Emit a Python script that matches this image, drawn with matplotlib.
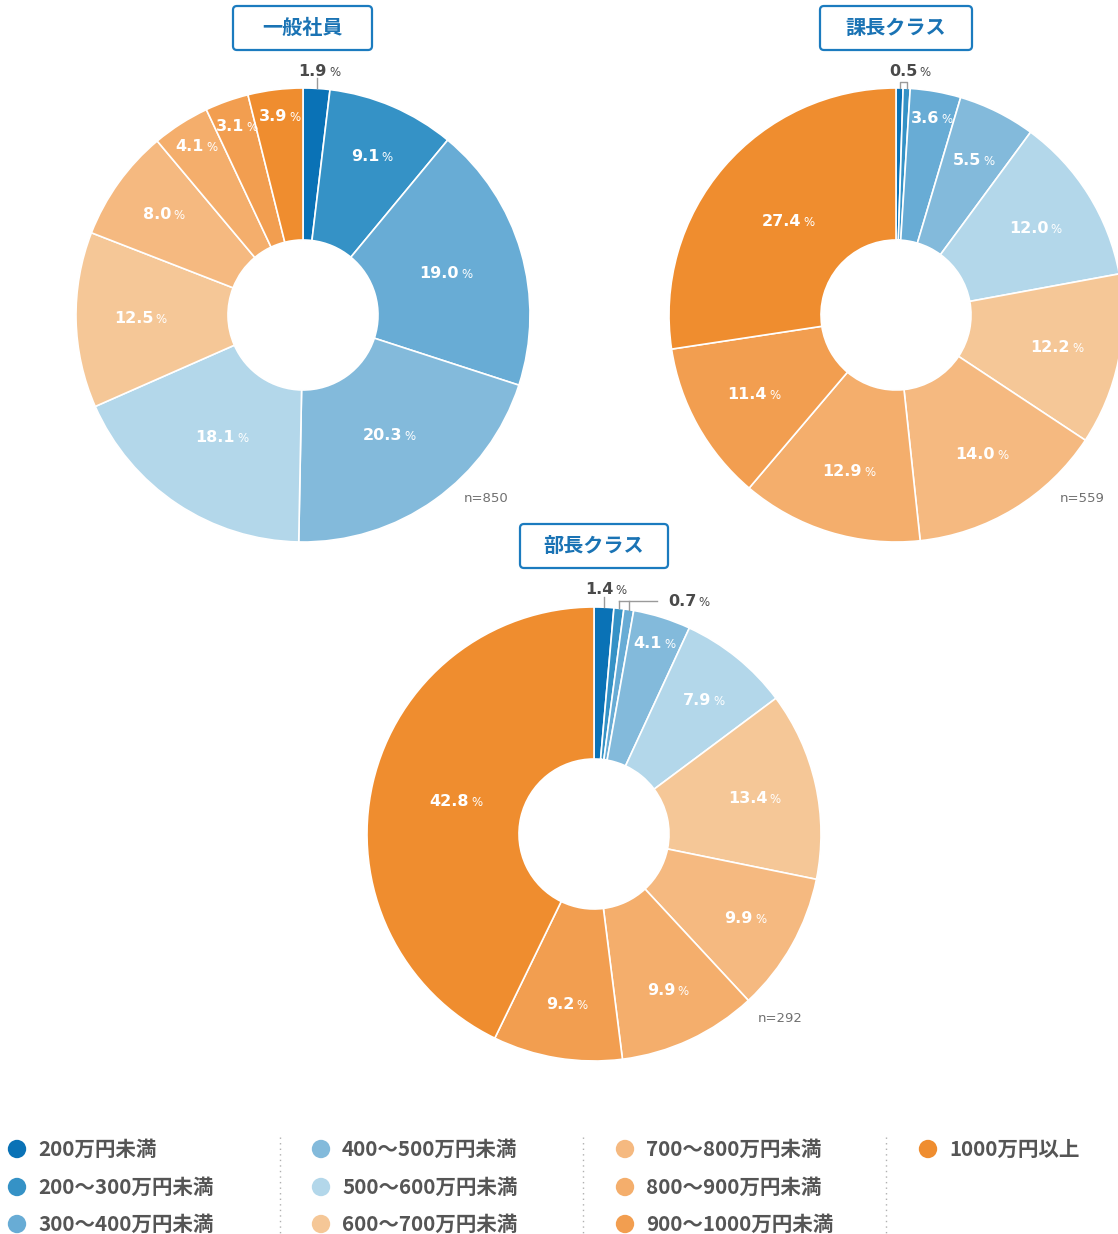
import matplotlib
matplotlib.use('Agg')
import matplotlib.pyplot as plt
import numpy as np
from matplotlib.patches import FancyBboxPatch

plt.rcParams['font.family'] = ['Noto Sans CJK JP', 'DejaVu Sans']

# ---------------- data ----------------
categories = ['200万円未満', '200～300万円未満', '300～400万円未満',
              '400～500万円未満', '500～600万円未満', '600～700万円未満',
              '700～800万円未満', '800～900万円未満', '900～1000万円未満',
              '1000万円以上']
colors = ['#0a72b6', '#3592c6', '#68acd5', '#83badb', '#b3d7ea',
          '#f5c797', '#f5b980', '#f4ae6c', '#f29e50', '#ef8d2f']
groups = ['一般社員', '課長クラス', '部長クラス']
ippan = [1.9, 9.1, 19.0, 20.3, 18.1, 12.5, 8.0, 4.1, 3.1, 3.9]
kacho = [0.5, 0.5, 3.6, 5.5, 12.0, 12.2, 14.0, 12.9, 11.4, 27.4]
bucho = [1.4, 0.7, 0.7, 4.1, 7.9, 13.4, 9.9, 9.9, 9.2, 42.8]
sample_sizes = [850, 559, 292]

# ---------------- layout (pixel space) ----------------
W, H = 1118, 1234
fig = plt.figure(figsize=(W / 100, H / 100), dpi=100)
ax = fig.add_axes([0, 0, 1, 1])

def Y(y):
    return H - y

R = 227
HOLE = 75
centers = [(303, 315), (896, 315), (594, 834)]
boxes = [(233, 6, 139, 44), (820, 6, 152, 44), (520, 524, 148, 44)]
n_pos = [(486, 498), (1082, 498), (780, 1018)]
TXT = '#4a4a4a'
LINE = '#9a9a9a'
NUMFONT = ['DejaVu Sans']


def mid_angle(vals, i):
    tot = sum(vals)
    before = sum(vals[:i])
    return np.deg2rad(90 - 360 * (before + vals[i] / 2) / tot)


def point(c, ang, r):
    return c[0] + r * np.cos(ang), Y(c[1]) + r * np.sin(ang)


def pct_label(x, y, v, color, fs=11.5, fsp=8.5):
    t = ax.text(x - 6, y, f'{v:.1f}', ha='center', va='center', color=color,
                fontsize=fs, fontweight='bold', family=NUMFONT)
    ax.annotate('%', xy=(1, 0.2), xycoords=t, xytext=(1.8, 0),
                textcoords='offset points', ha='left', va='baseline',
                color=color, fontsize=fsp, family=NUMFONT)


all_vals = [ippan, kacho, bucho]
outside = [{0}, {0, 1}, {0, 1, 2}]

for k, vals in enumerate(all_vals):
    c = centers[k]
    ax.pie(vals, colors=colors, center=(c[0], Y(c[1])), radius=R,
           startangle=90, counterclock=False,
           wedgeprops=dict(width=R - HOLE, edgecolor='white', linewidth=1.2))
    for i, v in enumerate(vals):
        if i in outside[k]:
            continue
        if v >= 25:
            frac = 0.63
        elif v >= 15:
            frac = 0.65
        elif v >= 10:
            frac = 0.72
        elif v >= 5:
            frac = 0.76
        else:
            frac = 0.88
        x, y = point(c, mid_angle(vals, i), R * frac)
        pct_label(x, y, v, 'white')

    # title box
    bx, by, bw, bh = boxes[k]
    ax.add_patch(FancyBboxPatch((bx, Y(by + bh)), bw, bh,
                                boxstyle='round,pad=0,rounding_size=4',
                                facecolor='white', edgecolor='#1b7bbf',
                                linewidth=1.6))
    ax.text(bx + bw / 2, Y(by + bh / 2) + 1, groups[k], ha='center',
            va='center', color='#1a73b4', fontsize=14.5, fontweight='bold')
    # sample size
    ax.text(n_pos[k][0], Y(n_pos[k][1]), f'n={sample_sizes[k]}', ha='center',
            va='center', color='#707070', fontsize=9.5, family=NUMFONT)

# outside labels ---------------------------------------------------
# 一般社員 1.9%
c = centers[0]
x0, y0 = point(c, mid_angle(ippan, 0), R)
ax.plot([x0, x0], [y0, y0 + 10], color=LINE, lw=1)
pct_label(x0 + 2, Y(71), ippan[0], TXT)

# 課長クラス 0.5% (two slivers)
c = centers[1]
xa, ya = point(c, mid_angle(kacho, 0), R)
xb, yb = point(c, mid_angle(kacho, 1), R)
top = Y(c[1]) + R + 6
ax.plot([xa, xa, xb, xb], [ya, top, top, yb], color=LINE, lw=1)
pct_label((xa + xb) / 2 + 6, Y(71), kacho[0], TXT)

# 部長クラス 1.4% and 0.7%
c = centers[2]
x0, y0 = point(c, mid_angle(bucho, 0), R)
ax.plot([x0, x0], [y0, y0 + 10], color=LINE, lw=1)
pct_label(x0 + 1, Y(589), bucho[0], TXT)
xa, ya = point(c, mid_angle(bucho, 1), R)
xb, yb = point(c, mid_angle(bucho, 2), R)
top = Y(601)
ax.plot([xa, xa], [ya, top], color=LINE, lw=1)
ax.plot([xb, xb], [yb, top], color=LINE, lw=1)
ax.plot([xa, 657], [top, top], color=LINE, lw=1)
pct_label(688, top, bucho[1], TXT)

# legend -------------------------------------------------------------
col_x = [17, 321, 625, 928]
row_y = [1149, 1187, 1224]
for i, cat in enumerate(categories):
    col, row = divmod(i, 3)
    ax.scatter([col_x[col]], [Y(row_y[row])], s=175, color=colors[i],
               edgecolors='none')
    ax.text(col_x[col] + 21, Y(row_y[row]), cat, ha='left', va='center',
            color='#555555', fontsize=14.8, fontweight='bold')
for sx in [280, 583, 886]:
    ax.plot([sx, sx], [Y(1137), Y(1234)], color='#b0b0b0', lw=1,
            linestyle=(0, (1, 3)))

ax.set_xlim(0, W)
ax.set_ylim(0, H)
ax.set_aspect('equal')
ax.axis('off')
fig.savefig('out.png', dpi=100, facecolor='white')
